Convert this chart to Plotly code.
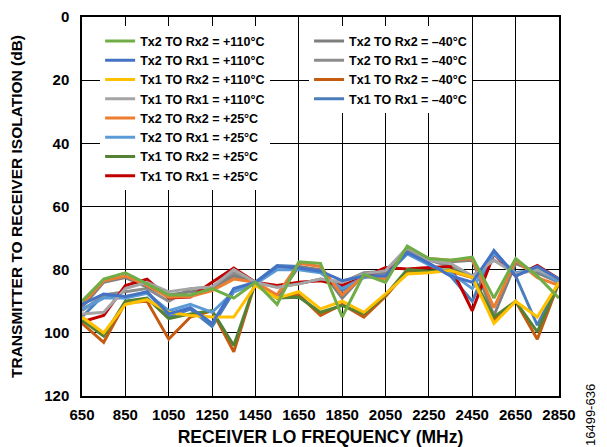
import plotly.graph_objects as go

freq = list(range(650, 2851, 100))

tx2rx2_110 = [90, 83, 81, 84.5, 88, 88, 86, 89, 84, 91, 77.5, 78, 95, 81.5, 84, 72.5, 76.5, 77, 76, 89, 76.5, 82, 89]
tx2rx1_110 = [91, 87.7, 88.5, 87, 94, 92, 97, 86, 84, 79, 79.5, 80.5, 83.5, 82, 82, 74.5, 78, 82, 84, 74, 82, 79, 83]
tx1rx2_110 = [95, 100, 91, 89.5, 93.5, 94.5, 95, 95, 85, 89, 87, 92.4, 90, 93.5, 87.7, 81.4, 81, 80.3, 82.4, 97, 90, 95, 84]
tx1rx1_110 = [94, 93.5, 86, 84, 87, 86, 85.5, 80, 84, 85.6, 84.5, 83, 84, 81.4, 80.3, 73, 77, 78, 82, 77, 81.4, 80, 83]
tx2rx2_25 = [91, 83.5, 82, 85, 88.7, 88.5, 86.6, 83, 84, 88, 78, 79, 88, 82, 83, 73, 76.5, 77, 76.5, 92, 77, 82.5, 85]
tx2rx1_25 = [92.5, 89, 89, 87.5, 93, 91, 93.5, 87, 84.5, 80, 80, 81, 86, 82.5, 82, 75, 78.5, 81, 86, 75, 81, 80, 84]
tx1rx2_25 = [96, 101, 90, 89, 95.5, 94, 93, 104, 84, 89, 88.7, 93.5, 91.4, 94, 88, 80, 80.5, 80, 82, 95, 90, 99.7, 84]
tx1rx1_25 = [96.5, 94.5, 85, 83, 89, 88.7, 84, 79.5, 84, 85, 84, 83.5, 85, 82.4, 79.3, 79.8, 79.3, 79, 93, 75, 82, 78.7, 83]
tx2rx2_m40 = [92, 84, 82.5, 85.5, 88, 87, 86, 82, 84, 89, 79, 80, 89, 81.5, 81, 73, 77, 77.5, 77, 94.5, 78, 81, 84]
tx2rx1_m40 = [93, 88, 87, 86, 90, 86, 85.5, 81, 84, 85.5, 84.5, 83, 84, 81, 80.5, 73.5, 77, 79, 82, 77, 81, 80, 83]
tx1rx2_m40 = [97, 103, 90.5, 90, 102, 95, 93, 106, 84, 89, 88, 94.5, 91, 95, 88.5, 80.5, 80.5, 80.5, 82.5, 96, 90, 102, 84]
tx1rx1_m40 = [95, 88, 89, 87, 95, 92.5, 98, 87, 84, 78.7, 79, 80.5, 86.6, 82, 82, 74.5, 78, 82, 90, 74, 82, 97.6, 84]

names = ["Tx2 TO Rx2 = +110°C", "Tx2 TO Rx1 = +110°C", "Tx1 TO Rx2 = +110°C", "Tx1 TO Rx1 = +110°C",
         "Tx2 TO Rx2 = +25°C", "Tx2 TO Rx1 = +25°C", "Tx1 TO Rx2 = +25°C", "Tx1 TO Rx1 = +25°C",
         "Tx2 TO Rx2 = –40°C", "Tx2 TO Rx1 = –40°C", "Tx1 TO Rx2 = –40°C", "Tx1 TO Rx1 = –40°C"]
series = [tx2rx2_110, tx2rx1_110, tx1rx2_110, tx1rx1_110,
          tx2rx2_25, tx2rx1_25, tx1rx2_25, tx1rx1_25,
          tx2rx2_m40, tx2rx1_m40, tx1rx2_m40, tx1rx1_m40]
colors = ["#70AD47", "#4472C4", "#FFC000", "#A5A5A5",
          "#ED7D31", "#5B9BD5", "#548235", "#C00000",
          "#7F7F7F", "#8C8C8C", "#C55A11", "#4A7EBB"]

yticks = [0, 20, 40, 60, 80, 100, 120]
xticks = list(range(650, 2851, 200))

FAM = "Liberation Sans, Arial"

fig = go.Figure()
for i in reversed(range(len(series))):
    fig.add_trace(go.Scatter(
        x=freq, y=series[i], mode="lines", name=names[i],
        line=dict(color=colors[i], width=3),
        legend="legend" if i < 8 else "legend2",
        legendrank=i + 1,
    ))

legfont = dict(family=FAM, size=12.5, color="black", weight="bold")
# page body has an 8px margin, so the figure is sized to the remaining window
fig.update_layout(
    width=599, height=439,
    margin=dict(l=74, r=48, t=9, b=51, autoexpand=False),
    paper_bgcolor="white", plot_bgcolor="white",
    font=dict(family=FAM, size=13, color="black"),
    showlegend=True,
    legend=dict(x=0.038, y=0.975, xanchor="left", yanchor="top",
                bgcolor="white", borderwidth=0, font=legfont,
                traceorder="normal", itemwidth=30, tracegroupgap=0),
    legend2=dict(x=0.476, y=0.975, xanchor="left", yanchor="top",
                 bgcolor="white", borderwidth=0, font=legfont,
                 traceorder="normal", itemwidth=30, tracegroupgap=0),
    xaxis=dict(range=[650, 2850], tickvals=xticks, ticktext=[str(v) for v in xticks],
               showgrid=True, gridcolor="black", gridwidth=1.2,
               showline=True, linecolor="black", linewidth=1.5, mirror=True,
               ticks="", zeroline=False, automargin=False, ticklabelstandoff=4,
               ticklabeloverflow="allow",
               tickfont=dict(family=FAM, size=15, color="black", weight="bold"),
               title=dict(text="RECEIVER LO FREQUENCY (MHz)", standoff=10,
                          font=dict(family=FAM, size=17.5, color="black", weight="bold"))),
    yaxis=dict(range=[120, 0], tickvals=yticks, ticktext=[str(v) for v in yticks],
               showgrid=True, gridcolor="black", gridwidth=1.2,
               showline=True, linecolor="black", linewidth=1.5, mirror=True,
               ticks="", zeroline=False, automargin=False, ticklabelstandoff=8,
               ticklabeloverflow="allow",
               tickfont=dict(family=FAM, size=15, color="black", weight="bold"),
               title=dict(text="TRANSMITTER TO RECEIVER ISOLATION (dB)", standoff=18,
                          font=dict(family=FAM, size=15.5, color="black", weight="bold"))),
    annotations=[dict(text="16499-636", x=1.066, y=-0.136, xref="paper", yref="paper",
                      xanchor="center", yanchor="bottom", textangle=-90, showarrow=False,
                      font=dict(family=FAM, size=13, color="black"))],
)

fig.write_html("out.html")
